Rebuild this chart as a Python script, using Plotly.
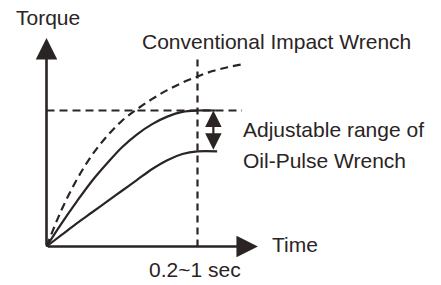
import plotly.graph_objects as go

# ---- data (normalized time / torque units) ----
t_upper = [0, 0.1, 0.2, 0.3, 0.4, 0.5, 0.6, 0.7, 0.8, 0.9, 1.0, 1.12]
torque_upper = [0, 0.17, 0.33, 0.48, 0.61, 0.73, 0.825, 0.90, 0.955, 0.99, 1.0, 1.0]

t_lower = [0, 0.1, 0.2, 0.3, 0.4, 0.5, 0.6, 0.7, 0.8, 0.9, 1.0, 1.13]
torque_lower = [0, 0.085, 0.17, 0.25, 0.33, 0.41, 0.49, 0.57, 0.635, 0.68, 0.70, 0.70]

t_impact = [0, 0.1, 0.2, 0.3, 0.4, 0.5, 0.6, 0.7, 0.8, 0.9, 1.0, 1.1, 1.2, 1.3]
torque_impact = [0, 0.27, 0.49, 0.67, 0.81, 0.925, 1.01, 1.085, 1.15, 1.205, 1.25, 1.29, 1.318, 1.34]

time_marker = 1.0          # 0.2~1 sec
max_torque = 1.0           # upper adjustable limit
min_torque = 0.70          # lower adjustable limit
range_x = 1.105            # position of the adjustable-range arrow
y_axis_top = 1.533
x_axis_end = 1.40
vline_top = 1.393
hline_end = 1.295

labels = {
    "torque": "Torque",
    "time": "Time",
    "impact": "Conventional Impact Wrench",
    "adj1": "Adjustable range of",
    "adj2": "Oil-Pulse Wrench",
    "sec": "0.2~1 sec",
}

INK = "#2a2424"
FONT = dict(family="Liberation Sans, Arial, sans-serif", size=21, color=INK)
W, H = 441, 285

fig = go.Figure()

fig.add_trace(go.Scatter(x=t_impact, y=torque_impact, mode="lines",
                         line=dict(color=INK, width=2.2, dash="8px,5px", shape="spline"),
                         hoverinfo="skip"))
fig.add_trace(go.Scatter(x=t_upper, y=torque_upper, mode="lines",
                         line=dict(color=INK, width=2.2, shape="spline"), hoverinfo="skip"))
fig.add_trace(go.Scatter(x=t_lower, y=torque_lower, mode="lines",
                         line=dict(color=INK, width=2.2, shape="spline"), hoverinfo="skip"))

# dashed reference lines
fig.add_shape(type="line", x0=time_marker, x1=time_marker, y0=0, y1=vline_top,
              line=dict(color=INK, width=2.2, dash="7px,5px"))
fig.add_shape(type="line", x0=0, x1=hline_end, y0=max_torque, y1=max_torque,
              line=dict(color=INK, width=2.2, dash="8px,5px"))

def arrow(x, y, ax, ay, width=2.6, size=1.3, side="end", head=2):
    fig.add_annotation(x=x, y=y, ax=ax, ay=ay, xref="x", yref="y", axref="x", ayref="y",
                       text="", showarrow=True, arrowhead=head, startarrowhead=head,
                       arrowsize=size, startarrowsize=size, arrowwidth=width,
                       arrowcolor=INK, arrowside=side, standoff=0, startstandoff=0)

# axes with arrows
arrow(0, y_axis_top, 0, 0, width=2.6, size=1.65)
arrow(x_axis_end, 0, 0, 0, width=2.6, size=1.65)
# adjustable range double arrow
arrow(range_x, max_torque, range_x, min_torque, width=2.2, size=1.5, side="end+start")

def label(text, px, py, xanchor="left"):
    fig.add_annotation(x=px / W, y=1 - py / H, xref="paper", yref="paper", text=text,
                       showarrow=False, xanchor=xanchor, yanchor="middle", font=FONT)

label(labels["torque"], 14, 18)
label(labels["impact"], 140, 41)
label(labels["adj1"], 241, 129)
label(labels["adj2"], 241, 160.5)
label(labels["time"], 270, 244)
label(labels["sec"], 195, 269, xanchor="center")

ox, oy = 46.5, 246.5
ux, uy = 151.0, 136.0
fig.update_layout(
    width=W, height=H, margin=dict(l=0, r=0, t=0, b=0),
    paper_bgcolor="white", plot_bgcolor="white", showlegend=False,
    xaxis=dict(visible=False, range=[-ox / ux, (W - ox) / ux], fixedrange=True),
    yaxis=dict(visible=False, range=[-(H - oy) / uy, oy / uy], fixedrange=True),
)

fig.write_html("out.html", config={"displayModeBar": False},
               post_script="document.body.style.margin='0';document.body.style.overflow='hidden';")
